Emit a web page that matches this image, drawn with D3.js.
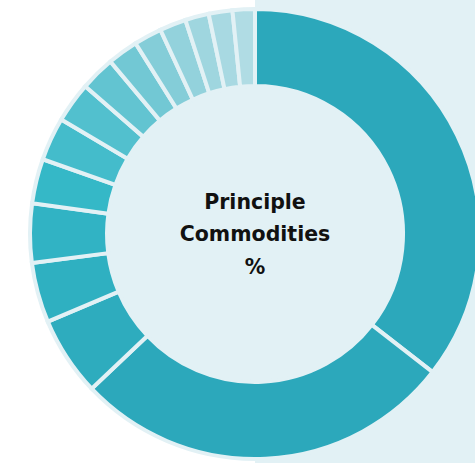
<!DOCTYPE html>
<html>
<head>
<meta charset="utf-8">
<script src="https://cdn.jsdelivr.net/npm/d3@7"></script>
<style>
  html, body { margin: 0; padding: 0; background: #ffffff; }
  svg { display: block; }
</style>
</head>
<body>
<svg id="chart" width="475" height="463"></svg>
<script>
// Share of each principal commodity (%), in drawing order clockwise from 12 o'clock
const commodities = ["C1","C2","C3","C4","C5","C6","C7","C8","C9","C10","C11","C12","C13","C14","C15"];
const shares = [35.5, 27.4, 5.7, 4.3, 4.25, 3.2, 3.1, 2.9, 2.5, 2.2, 2.0, 1.9, 1.7, 1.7, 1.6];
const sliceColors = ["#2ca8bb","#2ca8bb","#2eacbe","#2fb0c1","#31b3c4","#35b8c7","#44bccb","#52c0ce",
                     "#62c4d1","#72c8d4","#84cdd8","#93d2dc","#9fd6df","#a8d9e2","#b0dce4"];
const titleLines = ["Principle", "Commodities", "%"];

const W = 475, H = 463;
const cx = 255, cy = 234;
const outerR = 225, innerR = 148;
const paleBlue = "#e2f1f5";

const svg = d3.select("#chart");

// pale panel behind the right half
svg.append("rect").attr("x", cx).attr("y", 0).attr("width", W - cx).attr("height", H).attr("fill", paleBlue);

const g = svg.append("g").attr("transform", `translate(${cx},${cy})`);

// centre disc
g.append("circle").attr("r", innerR).attr("fill", paleBlue);

const pie = d3.pie().sort(null).value(d => d.value);
const arc = d3.arc().innerRadius(innerR).outerRadius(outerR);

const data = commodities.map((c, i) => ({ name: c, value: shares[i], color: sliceColors[i] }));

g.selectAll("path.slice")
  .data(pie(data))
  .join("path")
  .attr("class", "slice")
  .attr("d", arc)
  .attr("fill", d => d.data.color)
  .attr("stroke", paleBlue)
  .attr("stroke-width", 4)
  .attr("stroke-linejoin", "miter");

// centre title
const lineGap = 32.5;
g.selectAll("text.title")
  .data(titleLines)
  .join("text")
  .attr("class", "title")
  .attr("x", 0)
  .attr("y", (d, i) => (i - 1) * lineGap)
  .attr("dy", "0.35em")
  .attr("text-anchor", "middle")
  .attr("font-family", "'DejaVu Sans', sans-serif")
  .attr("font-weight", 700)
  .attr("font-size", 20.5)
  .attr("fill", "#111111")
  .text(d => d);
</script>
</body>
</html>
